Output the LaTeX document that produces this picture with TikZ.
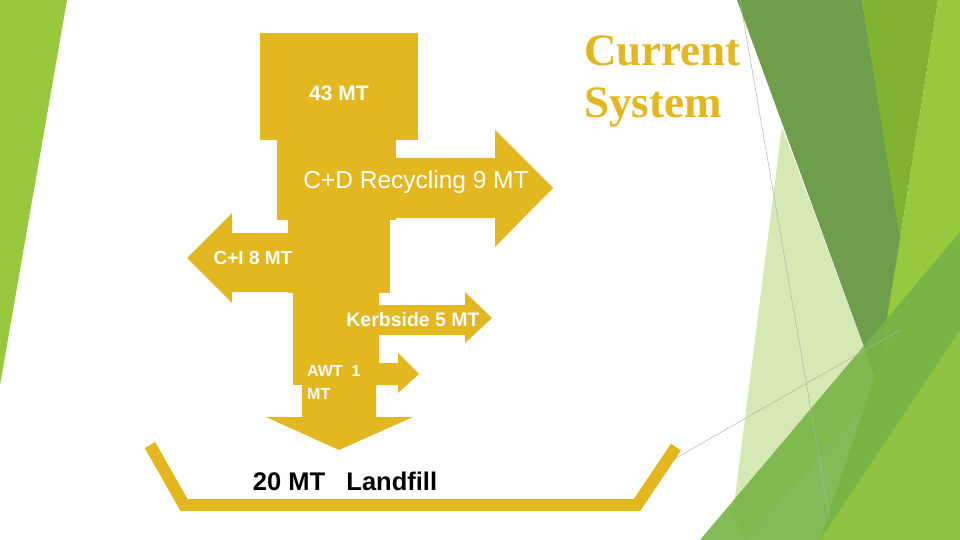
\documentclass[tikz,border=0pt]{standalone}
\usepackage{fontspec}
\setmainfont{Liberation Sans}
\newfontfamily\serifb{Liberation Serif}
\definecolor{gold}{HTML}{E3B720}
\definecolor{gA}{HTML}{6E9E4C}
\definecolor{gB}{HTML}{82B232}
\definecolor{gC}{HTML}{97C83E}
\definecolor{gD}{HTML}{76B446}
\definecolor{gL}{HTML}{D6E9B4}
\tikzset{flow/.style={fill=gold,draw=none},
lab/.style={text=white,font=\bfseries,inner sep=0pt},
grl/.style={draw=gray!60,line width=0.5pt}}
\begin{document}
\begin{tikzpicture}[x=1pt,y=-1pt]
\useasboundingbox (0,0) rectangle (960,540);
\fill[white] (0,0) rectangle (960,540);
% background greens
\fill[gC] (0,0) -- (67,0) -- (0,385) -- cycle;
\fill[gL] (782,127) -- (880,390) -- (745,540) -- (733,513) -- cycle;
\fill[gA] (737,0) -- (862,0) -- (902,240) -- (878,385) -- cycle;
\fill[gB] (862,0) -- (938,0) -- (900,240) -- cycle;
\fill[gC] (938,0) -- (960,0) -- (960,540) -- (820,540) -- (880,360) -- (900,240) -- cycle;
\fill[gD,opacity=0.9] (700,540) -- (960,232) -- (960,540) -- cycle;
\fill[gC,opacity=0.7] (820,540) -- (960,330) -- (960,540) -- cycle;
\draw[grl] (740,0) -- (830,520);
\draw[grl] (655,470) -- (900,330);
% flow shape
\fill[flow] (260,33) rectangle (418,140);
\fill[flow] (277,140) rectangle (396,220);
\fill[flow] (396,158) -- (495,158) -- (495,130) -- (553,188) -- (495,247) -- (495,218) -- (396,218) -- cycle;
\fill[flow] (288,220) rectangle (390,293);
\fill[flow] (288,233) -- (232,233) -- (232,213) -- (187,258) -- (232,303) -- (232,292) -- (288,292) -- cycle;
\fill[flow] (293,292) rectangle (379,385);
\fill[flow] (379,305) -- (465,305) -- (465,292) -- (492,318) -- (465,343) -- (465,335) -- (379,335) -- cycle;
\fill[flow] (376,363) -- (398,363) -- (398,353) -- (419,374) -- (398,393) -- (398,385) -- (376,385) -- cycle;
\fill[flow] (302,385) -- (376,385) -- (376,417) -- (413,417) -- (339,450) -- (266,417) -- (302,417) -- cycle;
\draw[gold,line width=12pt] (150,445) -- (184,505) -- (637,505) -- (676,447);
% texts
\node[lab,font=\fontsize{21}{24}\selectfont\bfseries] (t43) at (339,93) {43 MT};
\node[lab,font=\fontsize{24.5}{28}\selectfont] (tcd) at (416,182) {C+D Recycling 9 MT};
\node[lab,font=\fontsize{19}{22}\selectfont\bfseries] (tci) at (253,258) {C+I 8 MT};
\node[lab,font=\fontsize{19.5}{22}\selectfont\bfseries] (tk) at (413,320) {Kerbside 5 MT};
\node[lab,font=\fontsize{16}{23}\selectfont\bfseries,align=left,anchor=north west] (tawt) at (307,365) {AWT\ \ 1\\MT};
\node[font=\fontsize{25.5}{30}\selectfont\bfseries,inner sep=0pt] (tl) at (345,481) {20 MT\ \ \ Landfill};
\node[text=gold,font=\serifb\bfseries\fontsize{45}{52}\selectfont,align=left,anchor=north west,inner sep=0pt] (title) at (584,36) {Current\\System};
\end{tikzpicture}
\end{document}
